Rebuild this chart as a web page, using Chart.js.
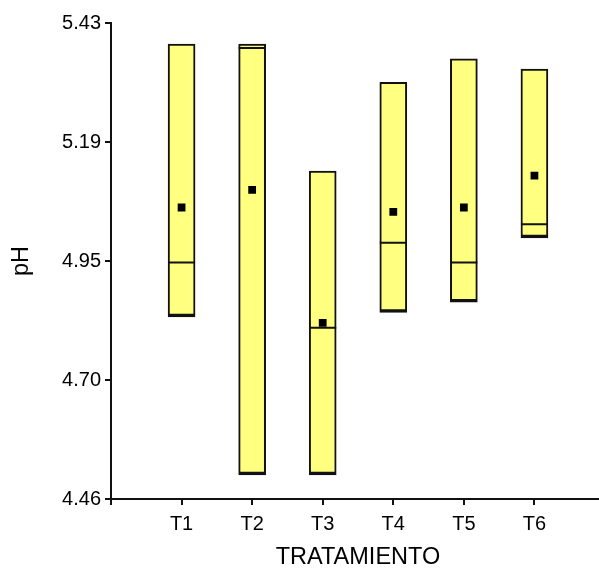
<!DOCTYPE html>
<html>
<head>
<meta charset="utf-8">
<script src="https://cdn.jsdelivr.net/npm/chart.js@4"></script>
<style>
  html, body { margin: 0; padding: 0; background: #fff; overflow: hidden; }
  #wrap { width: 612px; height: 569px; }
</style>
</head>
<body>
<div id="wrap"><canvas id="chart" width="612" height="569"></canvas></div>
<script>
// pH por tratamiento: caja (min-max), mediana y media
const categories = ['T1', 'T2', 'T3', 'T4', 'T5', 'T6'];
const boxLow = [4.831, 4.509, 4.509, 4.840, 4.861, 4.992];
const boxHigh = [5.387, 5.387, 5.128, 5.309, 5.357, 5.336];
const medians = [4.942, 5.379, 4.809, 4.982, 4.942, 5.020];
const means = [5.054, 5.090, 4.819, 5.045, 5.054, 5.119];
const yTickValues = [4.46, 4.7025, 4.945, 5.1875, 5.43];
const yTickLabels = ['4.46', '4.70', '4.95', '5.19', '5.43'];

const FONT = 'Liberation Sans, Arial, sans-serif';
const INK = '#000000';
const LINE = '#111111';

// empty slot on each side of the categories, like the original axis
const pad = (arr) => [null, ...arr, null];
const labels = ['', ...categories, ''];

const boxes = pad(categories.map((_, i) => [boxLow[i], boxHigh[i]]));

const ctx = document.getElementById('chart').getContext('2d');

new Chart(ctx, {
  type: 'bar',
  data: {
    labels,
    datasets: [
      {
        type: 'line',
        label: 'Media',
        data: pad(means),
        showLine: false,
        pointStyle: 'rect',
        pointRadius: 5.5,
        pointBackgroundColor: '#000000',
        pointBorderWidth: 0,
        order: 1,
      },
      {
        type: 'line',
        label: 'Mediana',
        data: pad(medians),
        showLine: false,
        pointStyle: 'line',
        pointRadius: 13.5,
        pointBorderColor: LINE,
        pointBorderWidth: 2,
        order: 2,
      },
      {
        label: 'pH',
        data: boxes,
        backgroundColor: '#FFFF80',
        borderColor: LINE,
        borderWidth: { top: 2, left: 2, right: 2, bottom: 3.5 },
        borderSkipped: false,
        barThickness: 27,
        order: 3,
      },
    ],
  },
  options: {
    responsive: false,
    animation: false,
    events: [],
    layout: { autoPadding: false, padding: { top: 23, left: 0, right: 0, bottom: 0 } },
    plugins: {
      legend: { display: false },
      tooltip: { enabled: false },
    },
    scales: {
      x: {
        offset: false,
        grid: {
          offset: false,
          drawOnChartArea: false,
          drawTicks: true,
          tickLength: 6,
          color: LINE,
          lineWidth: 2,
        },
        border: { display: true, color: LINE, width: 2 },
        ticks: {
          autoSkip: false,
          maxRotation: 0,
          padding: 7,
          color: INK,
          font: { family: FONT, size: 20 },
        },
        title: {
          display: true,
          text: 'TRATAMIENTO',
          color: INK,
          font: { family: FONT, size: 23.5, lineHeight: 1 },
          padding: { top: 0, bottom: 0 },
        },
        afterFit: (scale) => { scale.height = 70; },
      },
      y: {
        min: 4.46,
        max: 5.43,
        grid: {
          drawOnChartArea: false,
          drawTicks: true,
          tickLength: 6,
          color: LINE,
          lineWidth: 2,
        },
        border: { display: true, color: LINE, width: 2 },
        afterBuildTicks: (scale) => {
          scale.ticks = yTickValues.map((v) => ({ value: v }));
        },
        ticks: {
          padding: 4,
          color: INK,
          font: { family: FONT, size: 20 },
          callback: (value, index) => yTickLabels[index],
        },
        title: {
          display: true,
          text: 'pH',
          color: INK,
          font: { family: FONT, size: 23.5, lineHeight: 1 },
          padding: { top: 10, bottom: 0 },
        },
        afterFit: (scale) => { scale.width = 111; },
      },
    },
  },
});
</script>
</body>
</html>
